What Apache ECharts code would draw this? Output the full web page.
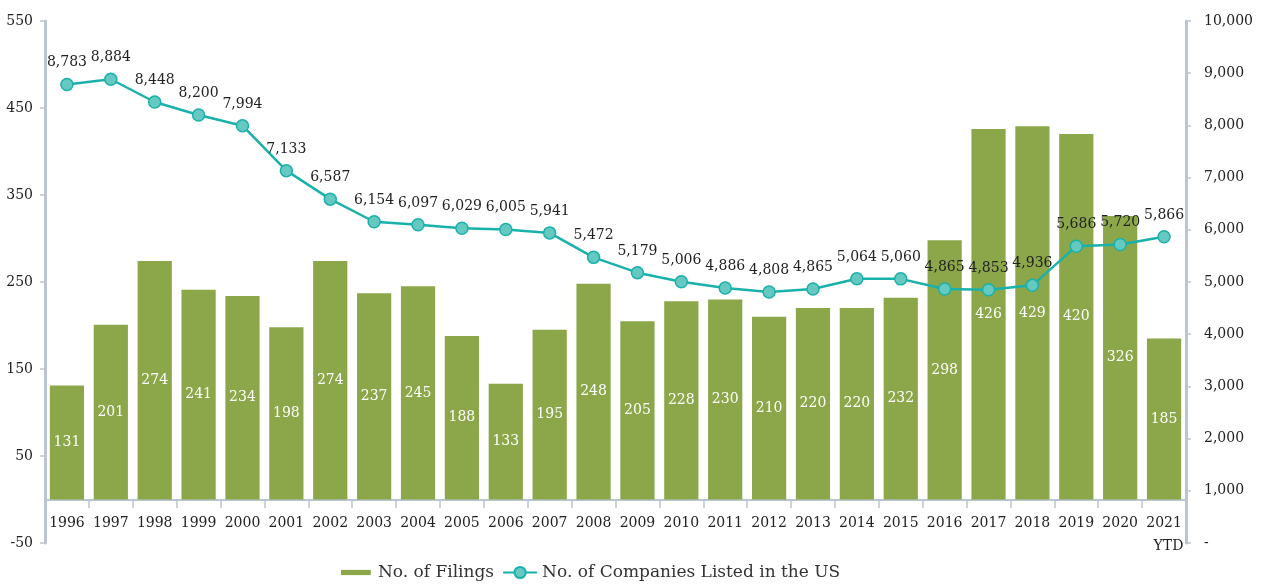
<!DOCTYPE html>
<html>
<head>
<meta charset="utf-8">
<script src="https://cdn.jsdelivr.net/npm/echarts@6/dist/echarts.min.js"></script>
<style>
  html, body { margin: 0; padding: 0; background: #fff; }
  #main { width: 1262px; height: 586px; }
</style>
</head>
<body>
<div id="main"></div>
<script>
// years on the category axis
var years = ['1996', '1997', '1998', '1999', '2000', '2001', '2002', '2003', '2004', '2005',
    '2006', '2007', '2008', '2009', '2010', '2011', '2012', '2013', '2014', '2015',
    '2016', '2017', '2018', '2019', '2020', '2021'];

// bars - number of filings
var filings = [131, 201, 274, 241, 234, 198, 274, 237, 245, 188,
    133, 195, 248, 205, 228, 230, 210, 220, 220, 232,
    298, 426, 429, 420, 326, 185];

// line - companies listed in the US
var listed = [8783, 8884, 8448, 8200, 7994, 7133, 6587, 6154, 6097, 6029,
    6005, 5941, 5472, 5179, 5006, 4886, 4808, 4865, 5064, 5060,
    4865, 4853, 4936, 5686, 5720, 5866];

var leftTicks = [-50, 550, 100];   // min, max, step
var rightTicks = [0, 10000, 1000];

var serif = 'DejaVu Serif';
var axisGrey = '#b9c6d2';

var myChart = echarts.init(document.getElementById('main'));

function fmt(v) {
    return v.toLocaleString('en-US');
}

var option = {
    animation: false,
    textStyle: { fontFamily: serif },
    grid: { left: 45, right: 76, top: 21, bottom: 43 },
    legend: {
        bottom: 0,
        left: 336,
        itemWidth: 34,
        itemHeight: 14,
        itemGap: 8,
        textStyle: { fontFamily: serif, fontSize: 17, color: '#333' },
        data: [
            { name: 'No. of Filings', icon: 'path://M0,0 L0,0 M0,5 H34 V11 H0 Z M34,16 L34,16' },
            { name: 'No. of Companies Listed in the US' }
        ]
    },
    xAxis: {
        type: 'category',
        data: years,
        offset: -43,   // sits on the zero line of the left axis
        axisLine: { onZero: false, lineStyle: { color: axisGrey, width: 2 } },
        axisTick: { show: true, length: 8, lineStyle: { color: axisGrey, width: 1.5 } },
        axisLabel: {
            interval: 0,
            color: '#222', fontSize: 14, fontFamily: serif, margin: 12,
            lineHeight: 23,
            formatter: function (v) { return v === '2021' ? '2021\n  YTD' : v; }
        }
    },
    yAxis: [
        {
            type: 'value',
            min: leftTicks[0], max: leftTicks[1], interval: leftTicks[2],
            splitLine: { show: false },
            axisLine: { show: true, lineStyle: { color: axisGrey, width: 3 } },
            axisTick: { show: true, length: 5, lineStyle: { color: axisGrey, width: 1.5 } },
            axisLabel: { color: '#222', fontSize: 14, fontFamily: serif, margin: 12 }
        },
        {
            type: 'value',
            min: rightTicks[0], max: rightTicks[1], interval: rightTicks[2],
            splitLine: { show: false },
            axisLine: { show: true, lineStyle: { color: axisGrey, width: 3 } },
            axisTick: { show: true, length: 5, lineStyle: { color: axisGrey, width: 1.5 } },
            axisLabel: {
                color: '#222', fontSize: 14, fontFamily: serif, margin: 18,
                formatter: function (v) { return v === 0 ? '-' : fmt(v); }
            }
        }
    ],
    series: [
        {
            name: 'No. of Filings',
            type: 'bar',
            data: filings,
            barCategoryGap: '22%',
            itemStyle: { color: '#8ca749' },
            label: {
                show: true, position: 'inside', color: '#fff',
                fontSize: 14, fontFamily: serif
            }
        },
        {
            name: 'No. of Companies Listed in the US',
            type: 'line',
            yAxisIndex: 1,
            data: listed,
            symbol: 'circle',
            symbolSize: 12,
            lineStyle: { color: '#19b1aa', width: 2.5 },
            itemStyle: { color: '#66c9c1', borderColor: '#19b1aa', borderWidth: 1.5 },
            label: {
                show: true, position: 'top', distance: 8, color: '#222',
                fontSize: 14, fontFamily: serif,
                formatter: function (p) { return fmt(p.value); }
            },
            z: 5
        }
    ]
};

myChart.setOption(option);
</script>
</body>
</html>
